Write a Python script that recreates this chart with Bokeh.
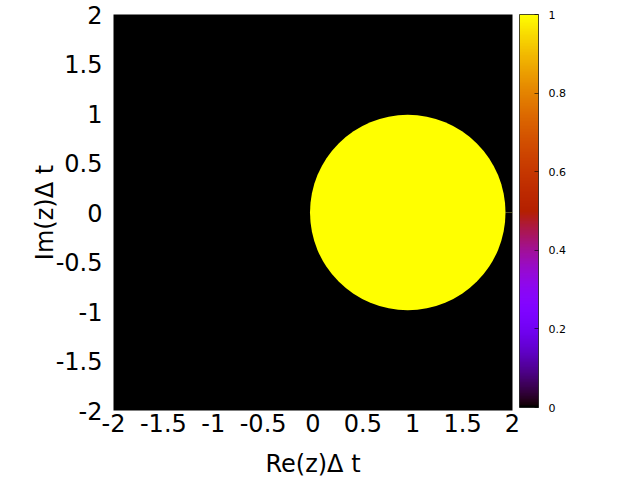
import numpy as np
from bokeh.plotting import figure
from bokeh.models import ColorBar, LinearColorMapper, FixedTicker
from bokeh.embed import file_html
from bokeh.resources import INLINE

# --- data ---
axis_ticks = [-2, -1.5, -1, -0.5, 0, 0.5, 1, 1.5, 2]
axis_tick_labels = ["-2", "-1.5", "-1", "-0.5", "0", "0.5", "1", "1.5", "2"]
cb_ticks = [0, 0.2, 0.4, 0.6, 0.8, 1]
cb_tick_labels = ["0", "0.2", "0.4", "0.6", "0.8", "1"]
region_cx = [0.95]      # centre of the value-1 region (Re)
region_cy = [0.0]       # centre of the value-1 region (Im)
region_r = 0.98         # radius of the value-1 region
stub_x = [1.93, 2.0]    # faint trace on the real axis at the right edge
stub_y = [0.0, 0.0]

# gnuplot default pm3d palette (rgbformulae 7,5,15)
t = np.linspace(0, 1, 256)
r = np.sqrt(t)
g = t ** 3
b = np.clip(np.sin(2 * np.pi * t), 0, 1)
palette = ["#%02x%02x%02x" % (int(round(rr * 255)), int(round(gg * 255)), int(round(bb * 255)))
           for rr, gg, bb in zip(r, g, b)]

FONT = "DejaVu Sans"

p = figure(frame_width=399, frame_height=396,
           x_range=(-2, 2), y_range=(-2, 2),
           output_backend="svg", toolbar_location=None,
           min_border_left=113, min_border_top=14, min_border_right=118, min_border_bottom=69)
p.background_fill_color = "black"
p.border_fill_color = "white"
p.outline_line_color = None
p.xgrid.visible = False
p.ygrid.visible = False

p.circle(x=region_cx, y=region_cy, radius=region_r, fill_color="#ffff00", line_color=None)
p.line(x=stub_x, y=stub_y, line_color="#9a9a40", line_width=1, line_dash="1 1")

for ax in (p.xaxis[0], p.yaxis[0]):
    ax.ticker = FixedTicker(ticks=axis_ticks)
    ax.major_label_overrides = {tv: tl for tv, tl in zip(axis_ticks, axis_tick_labels)}
    ax.major_label_text_font = FONT
    ax.major_label_text_font_size = "24px"
    ax.major_label_text_color = "black"
    ax.axis_label_text_font = FONT
    ax.axis_label_text_font_size = "24px"
    ax.axis_label_text_font_style = "normal"
    ax.axis_label_text_color = "black"
    ax.axis_line_color = None
    ax.major_tick_line_color = None
    ax.minor_tick_line_color = None

p.xaxis.axis_label = "Re(z)Δ t"
p.yaxis.axis_label = "Im(z)Δ t"
p.xaxis.major_label_standoff = -3
p.xaxis.axis_label_standoff = 15
p.yaxis.major_label_standoff = 5
p.yaxis.axis_label_standoff = -6

mapper = LinearColorMapper(palette=palette, low=0, high=1)
cb = ColorBar(color_mapper=mapper, width=19, height=393,
              location=(406, 3), margin=0, padding=0,
              ticker=FixedTicker(ticks=cb_ticks),
              major_label_overrides={tv: tl for tv, tl in zip(cb_ticks, cb_tick_labels)},
              major_label_text_font=FONT, major_label_text_font_size="11px",
              major_label_text_color="black",
              label_standoff=10,
              major_tick_in=4, major_tick_out=0,
              major_tick_line_color="black", major_tick_line_alpha=0.6,
              minor_tick_line_color=None,
              bar_line_color="black", bar_line_alpha=0.7, bar_line_width=1,
              border_line_color=None, background_fill_color=None)
p.add_layout(cb, "center")

open("out.html", "w").write(file_html(p, INLINE))
